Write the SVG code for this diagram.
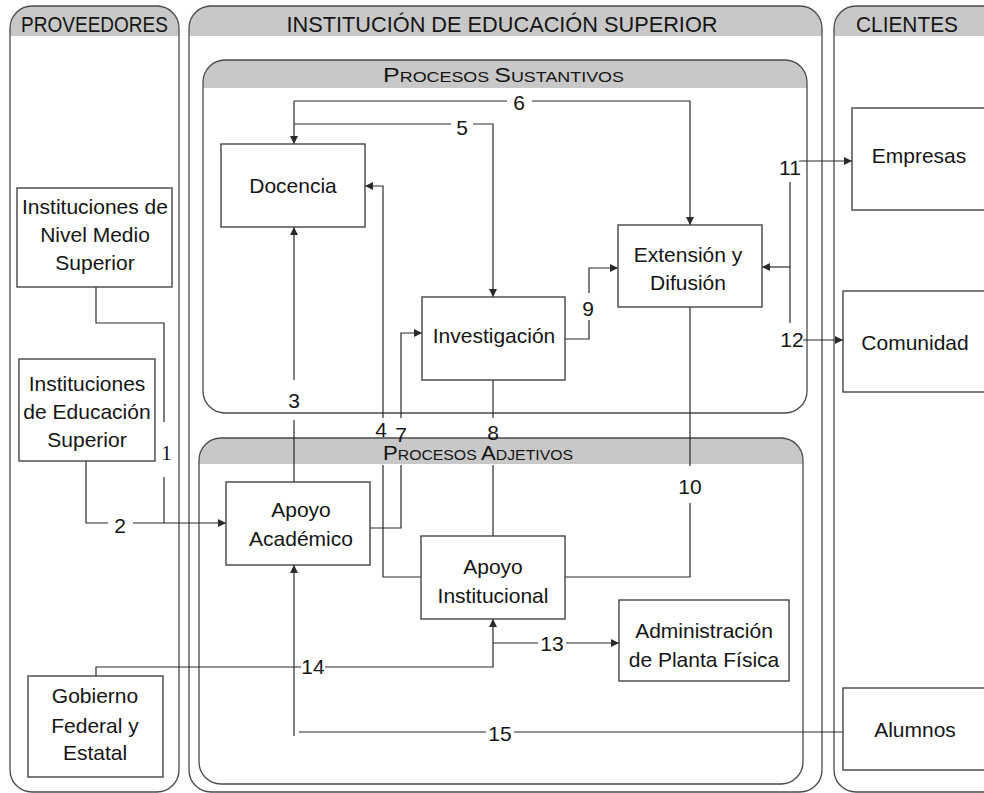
<svg xmlns="http://www.w3.org/2000/svg" width="984" height="793" viewBox="0 0 984 793">
<defs>
<marker id="ah" viewBox="0 0 10 10" refX="10" refY="5" markerWidth="10" markerHeight="8" markerUnits="userSpaceOnUse" orient="auto"><path d="M0,0 L10,5 L0,10 Z" fill="#2a2a2a"/></marker>
<style>
.lane{fill:none;stroke:#4a4a4a;stroke-width:1.3}
.hdr{fill:#c8c8c8}
.box{fill:#fff;stroke:#444;stroke-width:1.4}
.t{font-family:"Liberation Sans",Arial,sans-serif;font-size:21px;fill:#151515;text-anchor:middle}
.h{font-family:"Liberation Sans",Arial,sans-serif;font-size:22px;fill:#151515;text-anchor:middle}
.sc{font-family:"Liberation Sans",Arial,sans-serif;font-size:21px;fill:#151515}
.sm{font-size:15px}
.c{fill:none;stroke:#2a2a2a;stroke-width:1.2}
.a{marker-end:url(#ah)}
.n{font-family:"Liberation Sans",Arial,sans-serif;font-size:21px;fill:#151515;text-anchor:middle}
</style>
</defs>
<rect width="984" height="793" fill="#fff"/>
<g id="lanes">
<g id="lane-proveedores">
<path class="hdr" d="M10,36 V28 A22,22 0 0 1 32,6 H157 A22,22 0 0 1 179,28 V36 Z"/>
<rect class="lane" x="10" y="6" width="169" height="786" rx="22" ry="22"/>
<text class="h" x="94.5" y="32" textLength="147" lengthAdjust="spacingAndGlyphs">PROVEEDORES</text>
</g>
<g id="lane-institucion">
<path class="hdr" d="M189,36 V28 A22,22 0 0 1 211,6 H800 A22,22 0 0 1 822,28 V36 Z"/>
<rect class="lane" x="189" y="6" width="633" height="786" rx="22" ry="22"/>
<text class="h" x="502" y="32" textLength="431" lengthAdjust="spacingAndGlyphs">INSTITUCIÓN DE EDUCACIÓN SUPERIOR</text>
</g>
<g id="lane-clientes">
<path class="hdr" d="M834,36 V28 A22,22 0 0 1 856,6 H1004 V36 Z"/>
<rect class="lane" x="834" y="6" width="200" height="786" rx="22" ry="22"/>
<text class="h" x="907" y="32" textLength="102" lengthAdjust="spacingAndGlyphs">CLIENTES</text>
</g>
</g>
<g id="procesos-sustantivos">
<path class="hdr" d="M203,88 V82 A22,22 0 0 1 225,60 H785 A22,22 0 0 1 807,82 V88 Z"/>
<rect class="lane" x="203" y="60" width="604" height="353" rx="22" ry="22"/>
<text class="sc" x="383" y="82" textLength="241" lengthAdjust="spacingAndGlyphs">P<tspan class="sm">ROCESOS </tspan>S<tspan class="sm">USTANTIVOS</tspan></text>
</g>
<g id="procesos-adjetivos">
<path class="hdr" d="M199,464 V460 A22,22 0 0 1 221,438 H781 A22,22 0 0 1 803,460 V464 Z"/>
<rect class="lane" x="199" y="438" width="604" height="346" rx="22" ry="22"/>
<text class="sc" x="383" y="460" textLength="190" lengthAdjust="spacingAndGlyphs">P<tspan class="sm">ROCESOS </tspan>A<tspan class="sm">DJETIVOS</tspan></text>
</g>
<g id="connectors">
<path class="c a" d="M294,101 V144"/>
<path class="c" d="M294,101 H507"/>
<path class="c a" d="M532,101 H690 V225"/>
<path class="c" d="M294,124 H451"/>
<path class="c a" d="M473,124 H493 V297"/>
<path class="c" d="M294,482 V420"/>
<path class="c a" d="M294,380 V227"/>
<path class="c" d="M421,577 H383 V465"/>
<path class="c a" d="M383,418 V186 H365"/>
<path class="c" d="M370,528 H401 V465"/>
<path class="c a" d="M401,418 V333 H422"/>
<path class="c" d="M493,380 V418"/>
<path class="c" d="M493,465 V536"/>
<path class="c" d="M565,339 H589 V320"/>
<path class="c a" d="M589,293 V268 H618"/>
<path class="c" d="M690,307 V466"/>
<path class="c" d="M690,503 V577 H565"/>
<path class="c" d="M790,182 V323"/>
<path class="c a" d="M790,267 H762"/>
<path class="c a" d="M799,161 H852"/>
<path class="c a" d="M803,340 H843"/>
<path class="c" d="M96,287 V323 H164 V422"/>
<path class="c" d="M164,477 V523"/>
<path class="c" d="M86,461 V523 H108"/>
<path class="c a" d="M133,523 H226"/>
<path class="c" d="M493,643 H538"/>
<path class="c a" d="M566,643 H619"/>
<path class="c" d="M96,676 V667 H301"/>
<path class="c a" d="M325,667 H493 V619"/>
<path class="c" d="M843,732 H514"/>
<path class="c" d="M486,732 H299"/>
<path class="c a" d="M294,736 V565"/>
</g>
<g id="labels">
<text class="n" x="519" y="110">6</text>
<text class="n" x="462" y="135">5</text>
<text class="n" x="294" y="408">3</text>
<text class="n" x="381" y="437">4</text>
<text class="n" x="401" y="442">7</text>
<text class="n" x="493" y="440">8</text>
<text class="n" x="588" y="316">9</text>
<text class="n" x="690" y="494">10</text>
<text class="n" x="790" y="175">11</text>
<text class="n" x="792" y="347">12</text>
<text class="n" x="552" y="651">13</text>
<text class="n" x="313" y="674">14</text>
<text class="n" x="500" y="741">15</text>
<text class="n" x="120" y="533">2</text>
<text x="166.5" y="460" style="font-family:'Liberation Serif','Times New Roman',serif;font-size:21px;fill:#151515;text-anchor:middle">1</text>
</g>
<g id="n-nivel-medio">
<rect class="box" x="17" y="188" width="155" height="99"/>
<text class="t" x="95" y="214">Instituciones de</text>
<text class="t" x="95" y="242">Nivel Medio</text>
<text class="t" x="95" y="270">Superior</text>
</g>
<g id="n-educacion-superior">
<rect class="box" x="19" y="359" width="136" height="102"/>
<text class="t" x="87" y="391">Instituciones</text>
<text class="t" x="87" y="419">de Educación</text>
<text class="t" x="87" y="447">Superior</text>
</g>
<g id="n-gobierno">
<rect class="box" x="28" y="676" width="135" height="101"/>
<text class="t" x="95" y="703">Gobierno</text>
<text class="t" x="95" y="733">Federal y</text>
<text class="t" x="95" y="760">Estatal</text>
</g>
<g id="n-docencia">
<rect class="box" x="221" y="144" width="144" height="83"/>
<text class="t" x="293" y="193">Docencia</text>
</g>
<g id="n-investigacion">
<rect class="box" x="422" y="297" width="143" height="83"/>
<text class="t" x="494" y="343">Investigación</text>
</g>
<g id="n-extension">
<rect class="box" x="618" y="225" width="144" height="82"/>
<text class="t" x="688" y="262">Extensión y</text>
<text class="t" x="688" y="290">Difusión</text>
</g>
<g id="n-apoyo-academico">
<rect class="box" x="226" y="482" width="144" height="83"/>
<text class="t" x="301" y="517">Apoyo</text>
<text class="t" x="301" y="546">Académico</text>
</g>
<g id="n-apoyo-institucional">
<rect class="box" x="421" y="536" width="144" height="83"/>
<text class="t" x="493" y="574">Apoyo</text>
<text class="t" x="493" y="603">Institucional</text>
</g>
<g id="n-administracion">
<rect class="box" x="619" y="600" width="170" height="81"/>
<text class="t" x="704" y="638">Administración</text>
<text class="t" x="704" y="667">de Planta Física</text>
</g>
<g id="n-empresas">
<rect class="box" x="852" y="108" width="150" height="102"/>
<text class="t" x="919" y="163">Empresas</text>
</g>
<g id="n-comunidad">
<rect class="box" x="843" y="291" width="160" height="101"/>
<text class="t" x="915" y="350">Comunidad</text>
</g>
<g id="n-alumnos">
<rect class="box" x="843" y="688" width="160" height="82"/>
<text class="t" x="915" y="737">Alumnos</text>
</g>
</svg>
